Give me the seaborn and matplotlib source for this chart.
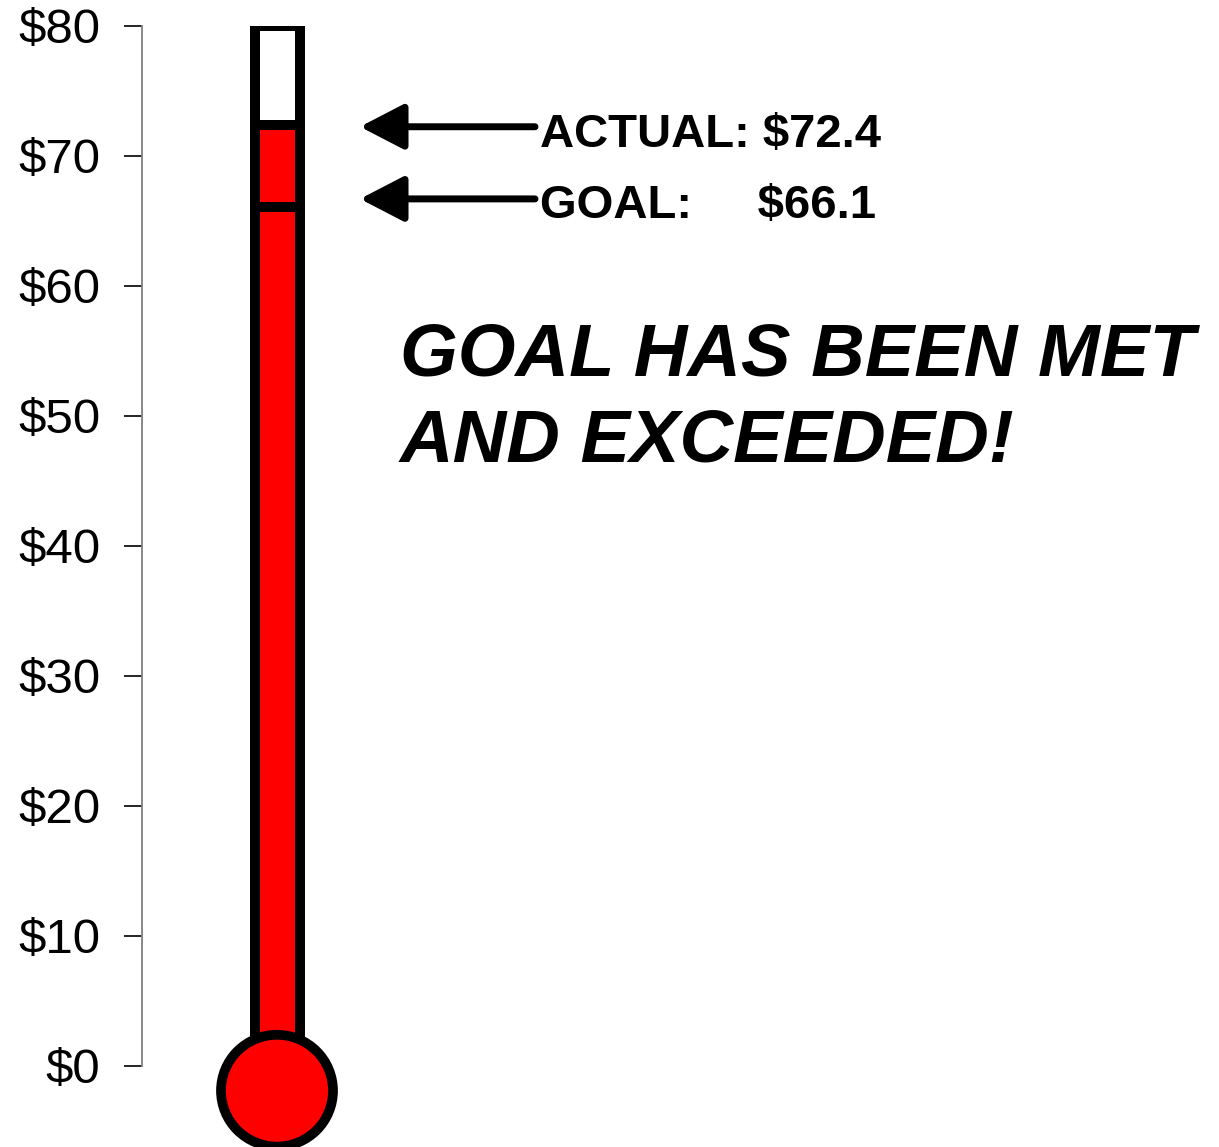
import matplotlib
matplotlib.use("Agg")
import matplotlib.pyplot as plt
from matplotlib.patches import Ellipse
import seaborn as sns

# thermometer data
scale_max = 80
actual = 72.4
goal = 66.1
yticks = [0, 10, 20, 30, 40, 50, 60, 70, 80]
ytick_labels = ["$0", "$10", "$20", "$30", "$40", "$50", "$60", "$70", "$80"]
actual_text = "ACTUAL: $72.4"
goal_text = "GOAL:     $66.1"
message = "GOAL HAS BEEN MET\nAND EXCEEDED!"

sns.set_style("white")
plt.rcParams["font.family"] = ["Liberation Sans", "DejaVu Sans"]
plt.rcParams["text.color"] = "black"
plt.rcParams["ytick.color"] = "black"
plt.rcParams["ytick.labelcolor"] = "black"

fig = plt.figure(figsize=(12.19, 11.47), dpi=100)
ax = fig.add_axes([142 / 1219, 81 / 1147, 1077 / 1219, 1040 / 1147])

tube = ["t"]
sns.barplot(x=tube, y=[scale_max], color="white", width=0.45,
            edgecolor="black", linewidth=7.2, saturation=1, ax=ax)
sns.barplot(x=tube, y=[actual], color="#ff0000", width=0.45,
            edgecolor="black", linewidth=7.2, saturation=1, ax=ax)
sns.barplot(x=tube, y=[goal], color="#ff0000", width=0.45,
            edgecolor="black", linewidth=7.2, saturation=1, ax=ax)

# bulb
bulb = Ellipse((0, -1.9), 1.12, 8.6, facecolor="#ff0000", edgecolor="black",
               linewidth=7.0, clip_on=False, zorder=5)
ax.add_patch(bulb)

ax.set_xlim(-1.35, 9.42)
ax.set_ylim(0, scale_max)
ax.set_yticks(yticks)
ax.set_yticklabels(ytick_labels, fontsize=35.5, color="black")
ax.set_xticks([])
ax.set_xlabel("")
ax.set_ylabel("")
ax.tick_params(axis="y", left=True, length=13, width=1.2, color="black", pad=17)
for side in ["top", "right", "bottom"]:
    ax.spines[side].set_visible(False)
ax.spines["left"].set_color("#808080")
ax.spines["left"].set_linewidth(1.3)

# arrows and labels
arrow = dict(arrowstyle="-|>,head_length=27,head_width=14", mutation_scale=1,
             lw=5, color="black", shrinkA=0, shrinkB=0)
ax.annotate("", xy=(0.83, actual - 0.15), xytext=(2.58, actual - 0.15), arrowprops=arrow)
ax.annotate("", xy=(0.83, goal + 0.6), xytext=(2.58, goal + 0.6), arrowprops=arrow)
ax.text(2.63, 70.7, actual_text, fontsize=34, fontweight="bold", va="baseline", ha="left")
ax.text(2.63, 65.2, goal_text, fontsize=34, fontweight="bold", va="baseline", ha="left")

ax.text(1.23, 57.3, message, fontsize=53.5, fontweight="bold", fontstyle="italic",
        va="top", ha="left", linespacing=1.33)

fig.savefig("out.png", dpi=100)
